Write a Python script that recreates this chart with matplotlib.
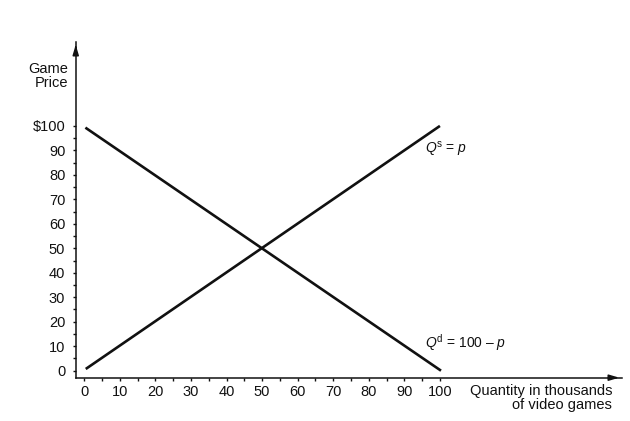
"""Supply and demand for video games."""
import matplotlib
matplotlib.use("Agg")
import matplotlib.pyplot as plt
import numpy as np

plt.rcParams["font.family"] = ["Liberation Sans", "DejaVu Sans"]
plt.rcParams["mathtext.fontset"] = "custom"
plt.rcParams["mathtext.rm"] = "Liberation Sans"
plt.rcParams["mathtext.it"] = "Liberation Sans:italic"

# curves (quantity in thousands, price in $)
supply_q = [0.4, 100]
supply_p = [0.7, 100]
demand_q = [0.3, 100.3]
demand_p = [99.3, 0]

x_ticks = list(range(0, 101, 10))
y_ticks = list(range(0, 101, 10))
y_ticklabels = [str(v) for v in y_ticks[:-1]] + ["$100"]

fig = plt.figure(figsize=(6.3, 4.21), dpi=100)
ax = fig.add_axes([0.1202, 0.1029, 0.8671, 0.7974])
ax.set_xlim(-2.42, 151.2)
ax.set_ylim(-2.86, 134.3)

ink = "#111111"
ax.plot(supply_q, supply_p, color=ink, lw=1.9, solid_capstyle="butt")
ax.plot(demand_q, demand_p, color=ink, lw=1.9, solid_capstyle="butt")

for side in ("top", "right"):
    ax.spines[side].set_visible(False)
for side in ("left", "bottom"):
    ax.spines[side].set_color(ink)
    ax.spines[side].set_linewidth(1.1)

# arrow heads on the axes
head = dict(arrowstyle="-|>,head_length=0.6,head_width=0.18", color=ink, lw=1.1)
ax.annotate("", xy=(1.0, 0), xytext=(0.97, 0), xycoords="axes fraction",
            arrowprops=head, annotation_clip=False)
ax.annotate("", xy=(0, 1.0), xytext=(0, 0.97), xycoords="axes fraction",
            arrowprops=head, annotation_clip=False)

ax.set_xticks(x_ticks)
ax.set_xticks(np.arange(5, 100, 10), minor=True)
ax.set_yticks(y_ticks)
ax.set_yticklabels(y_ticklabels)
ax.set_yticks(np.arange(5, 100, 10), minor=True)
ax.tick_params(which="both", direction="out", length=2.5, width=1.0, color=ink,
               labelsize=10.5, labelcolor=ink)
ax.tick_params(axis="y", pad=5)
ax.tick_params(axis="x", pad=3)

ax.text(-4.6, 120.4, "Game\nPrice", ha="right", va="center", fontsize=10.5,
        color=ink, linespacing=1.05, multialignment="right", clip_on=False)
ax.text(148.4, -5.3, "Quantity in thousands\nof video games", ha="right",
        va="top", fontsize=10.5, color=ink, linespacing=1.05,
        multialignment="right", clip_on=False)

ax.text(95.7, 90.2, r"$Q^{\mathrm{s}}$ = $p$", ha="left", va="center",
        fontsize=10, color=ink)
ax.text(95.7, 11.3, r"$Q^{\mathrm{d}}$ = 100 – $p$", ha="left", va="center",
        fontsize=10, color=ink)

fig.savefig("out.png", dpi=100)
plt.close(fig)
